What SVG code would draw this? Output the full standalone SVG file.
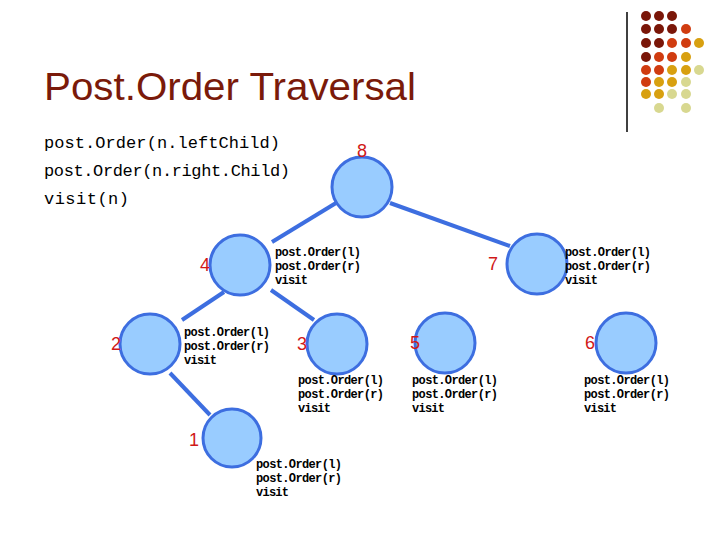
<svg xmlns="http://www.w3.org/2000/svg" width="720" height="540" viewBox="0 0 720 540">
<style>
.n{fill:#99ccff;stroke:#3d6ee0;stroke-width:3}
.e{stroke:#3d6ee0;stroke-width:4}
.l{font-family:"Liberation Sans",sans-serif;font-size:18px;fill:#d01818;text-anchor:middle}
.c{font-family:"Liberation Mono",monospace;font-weight:bold;font-size:12px;fill:#000}
.code{font-family:"Liberation Mono",monospace;font-size:17px;fill:#000}
</style>
<rect width="720" height="540" fill="#fff"/>
<line x1="627" y1="12" x2="627" y2="132" stroke="#000" stroke-width="1.5"/>
<g id="dots">
<circle cx="646" cy="16" r="5" fill="#7a1608"/><circle cx="659" cy="16" r="5" fill="#7a1608"/><circle cx="672" cy="16" r="5" fill="#7a1608"/>
<circle cx="646" cy="29" r="5" fill="#7a1608"/><circle cx="659" cy="29" r="5" fill="#7a1608"/><circle cx="672" cy="29" r="5" fill="#7a1608"/><circle cx="686" cy="29" r="5" fill="#d03c10"/>
<circle cx="646" cy="43" r="5" fill="#7a1608"/><circle cx="659" cy="43" r="5" fill="#7a1608"/><circle cx="672" cy="43" r="5" fill="#d03c10"/><circle cx="686" cy="43" r="5" fill="#d03c10"/><circle cx="699" cy="43" r="5" fill="#d8a010"/>
<circle cx="646" cy="57" r="5" fill="#7a1608"/><circle cx="659" cy="57" r="5" fill="#d03c10"/><circle cx="672" cy="57" r="5" fill="#d03c10"/><circle cx="686" cy="57" r="5" fill="#d8a010"/>
<circle cx="646" cy="70" r="5" fill="#d03c10"/><circle cx="659" cy="70" r="5" fill="#d03c10"/><circle cx="672" cy="70" r="5" fill="#d8a010"/><circle cx="686" cy="70" r="5" fill="#d8a010"/><circle cx="699" cy="70" r="5" fill="#d8d890"/>
<circle cx="646" cy="82" r="5" fill="#d03c10"/><circle cx="659" cy="82" r="5" fill="#d8a010"/><circle cx="672" cy="82" r="5" fill="#d8a010"/><circle cx="686" cy="82" r="5" fill="#d8d890"/>
<circle cx="646" cy="94" r="5" fill="#d8a010"/><circle cx="659" cy="94" r="5" fill="#d8a010"/><circle cx="672" cy="94" r="5" fill="#d8d890"/><circle cx="686" cy="94" r="5" fill="#d8d890"/>
<circle cx="659" cy="108" r="5" fill="#d8d890"/><circle cx="686" cy="108" r="5" fill="#d8d890"/>
</g>
<text x="44" y="100" font-family="Liberation Sans,sans-serif" font-size="38" fill="#7a1a0a" textLength="372" lengthAdjust="spacingAndGlyphs">Post.Order Traversal</text>
<text class="code" x="44" y="148" textLength="236">post.Order(n.leftChild)</text>
<text class="code" x="44" y="176" textLength="246">post.Order(n.right.Child)</text>
<text class="code" x="44" y="204" textLength="85">visit(n)</text>
<g id="edges">
<line class="e" x1="336" y1="203" x2="272" y2="242"/>
<line class="e" x1="390" y1="203" x2="510" y2="246"/>
<line class="e" x1="224" y1="292" x2="182" y2="320"/>
<line class="e" x1="271" y1="290" x2="314" y2="320"/>
<line class="e" x1="170" y1="373" x2="210" y2="415"/>
</g>
<g id="n8"><circle class="n" cx="362" cy="187" r="30"/><text class="l" x="362" y="157">8</text></g>
<g id="n4"><circle class="n" cx="240" cy="265" r="30"/><text class="l" x="205" y="271">4</text>
<text class="c" x="275" y="256" textLength="86">post.Order(l)</text><text class="c" x="275" y="270" textLength="86">post.Order(r)</text><text class="c" x="275" y="284" textLength="33">visit</text></g>
<g id="n7"><circle class="n" cx="537" cy="264" r="30"/><text class="l" x="493" y="270">7</text>
<text class="c" x="565" y="256" textLength="86">post.Order(l)</text><text class="c" x="565" y="270" textLength="86">post.Order(r)</text><text class="c" x="565" y="284" textLength="33">visit</text></g>
<g id="n2"><circle class="n" cx="150" cy="344" r="30"/><text class="l" x="116" y="350">2</text>
<text class="c" x="184" y="336" textLength="86">post.Order(l)</text><text class="c" x="184" y="350" textLength="86">post.Order(r)</text><text class="c" x="184" y="364" textLength="33">visit</text></g>
<g id="n3"><circle class="n" cx="337" cy="344" r="30"/><text class="l" x="302" y="350">3</text>
<text class="c" x="298" y="384" textLength="86">post.Order(l)</text><text class="c" x="298" y="398" textLength="86">post.Order(r)</text><text class="c" x="298" y="412" textLength="33">visit</text></g>
<g id="n5"><circle class="n" cx="445" cy="343" r="30"/><text class="l" x="415" y="349">5</text>
<text class="c" x="412" y="384" textLength="86">post.Order(l)</text><text class="c" x="412" y="398" textLength="86">post.Order(r)</text><text class="c" x="412" y="412" textLength="33">visit</text></g>
<g id="n6"><circle class="n" cx="626" cy="343" r="30"/><text class="l" x="590" y="349">6</text>
<text class="c" x="584" y="384" textLength="86">post.Order(l)</text><text class="c" x="584" y="398" textLength="86">post.Order(r)</text><text class="c" x="584" y="412" textLength="33">visit</text></g>
<g id="n1"><circle class="n" cx="232" cy="438" r="29"/><text class="l" x="194" y="446">1</text>
<text class="c" x="256" y="468" textLength="86">post.Order(l)</text><text class="c" x="256" y="482" textLength="86">post.Order(r)</text><text class="c" x="256" y="496" textLength="33">visit</text></g>
</svg>
